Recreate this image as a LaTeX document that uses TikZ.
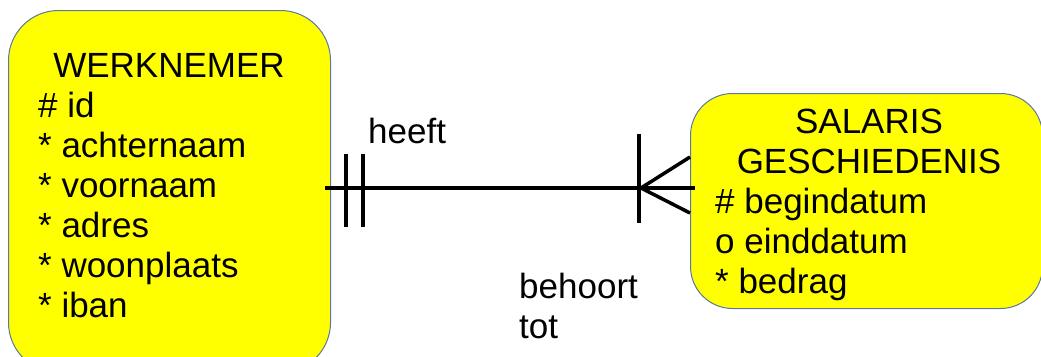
\documentclass[tikz,border=0pt]{standalone}
\usepackage{fontspec}
\setmainfont{Liberation Sans}
\definecolor{entyellow}{RGB}{255,255,0}
\definecolor{entborder}{RGB}{90,120,160}
\begin{document}
\begin{tikzpicture}[x=1pt,y=-1pt,
  entity/.style={draw=entborder, line width=1pt, fill=entyellow, inner sep=0pt},
  lbl/.style={inner sep=0pt, font=\fontsize{35}{40}\selectfont},
  rel/.style={line width=3.5pt},
]
\useasboundingbox (0,0) rectangle (1041,356);
\clip (0,0) rectangle (1041,356);
% entities
\node[entity, rounded corners=50pt, minimum width=322pt, minimum height=362pt, anchor=north west] (werk) at (8,10) {};
\node[entity, rounded corners=42pt, minimum width=352pt, minimum height=215pt, anchor=north west] (sal) at (690,93) {};
% WERKNEMER texts
\node[lbl, anchor=base] (wt) at (169,77) {WERKNEMER};
\node[lbl, anchor=base west] (w1) at (38,117) {\# id};
\node[lbl, anchor=base west] (w2) at (38,157) {* achternaam};
\node[lbl, anchor=base west] (w3) at (38,197) {* voornaam};
\node[lbl, anchor=base west] (w4) at (38,237) {* adres};
\node[lbl, anchor=base west] (w5) at (38,277) {* woonplaats};
\node[lbl, anchor=base west] (w6) at (38,317) {* iban};
% SALARIS texts
\node[lbl, anchor=base] (st1) at (869,133) {SALARIS};
\node[lbl, anchor=base] (st2) at (869,173) {GESCHIEDENIS};
\node[lbl, anchor=base west] (s1) at (715,213) {\# begindatum};
\node[lbl, anchor=base west] (s2) at (715,253) {o einddatum};
\node[lbl, anchor=base west] (s3) at (715,293) {* bedrag};
% relationship labels
\node[lbl, anchor=base west] (heeft) at (368,143) {heeft};
\node[lbl, anchor=base west] (beh1) at (519,298) {behoort};
\node[lbl, anchor=base west] (beh2) at (519,338) {tot};
% connector
\coordinate (ra) at (325,188);
\coordinate (rb) at (695,188);
\draw[rel] (ra) -- (rb);
% one-and-only-one bars
\coordinate (b1t) at (346,154); \coordinate (b1b) at (346,227);
\coordinate (b2t) at (363,154); \coordinate (b2b) at (363,227);
\draw[rel] (b1t) -- (b1b);
\draw[rel] (b2t) -- (b2b);
% crow's foot (one or many)
\coordinate (c1t) at (639,134); \coordinate (c1b) at (639,223);
\draw[rel] (c1t) -- (c1b);
\coordinate (cf) at (641,188);
\coordinate (cu) at (690,157);
\coordinate (cd) at (690,213);
\draw[rel] (cu) -- (cf) -- (cd);
\end{tikzpicture}
\end{document}
